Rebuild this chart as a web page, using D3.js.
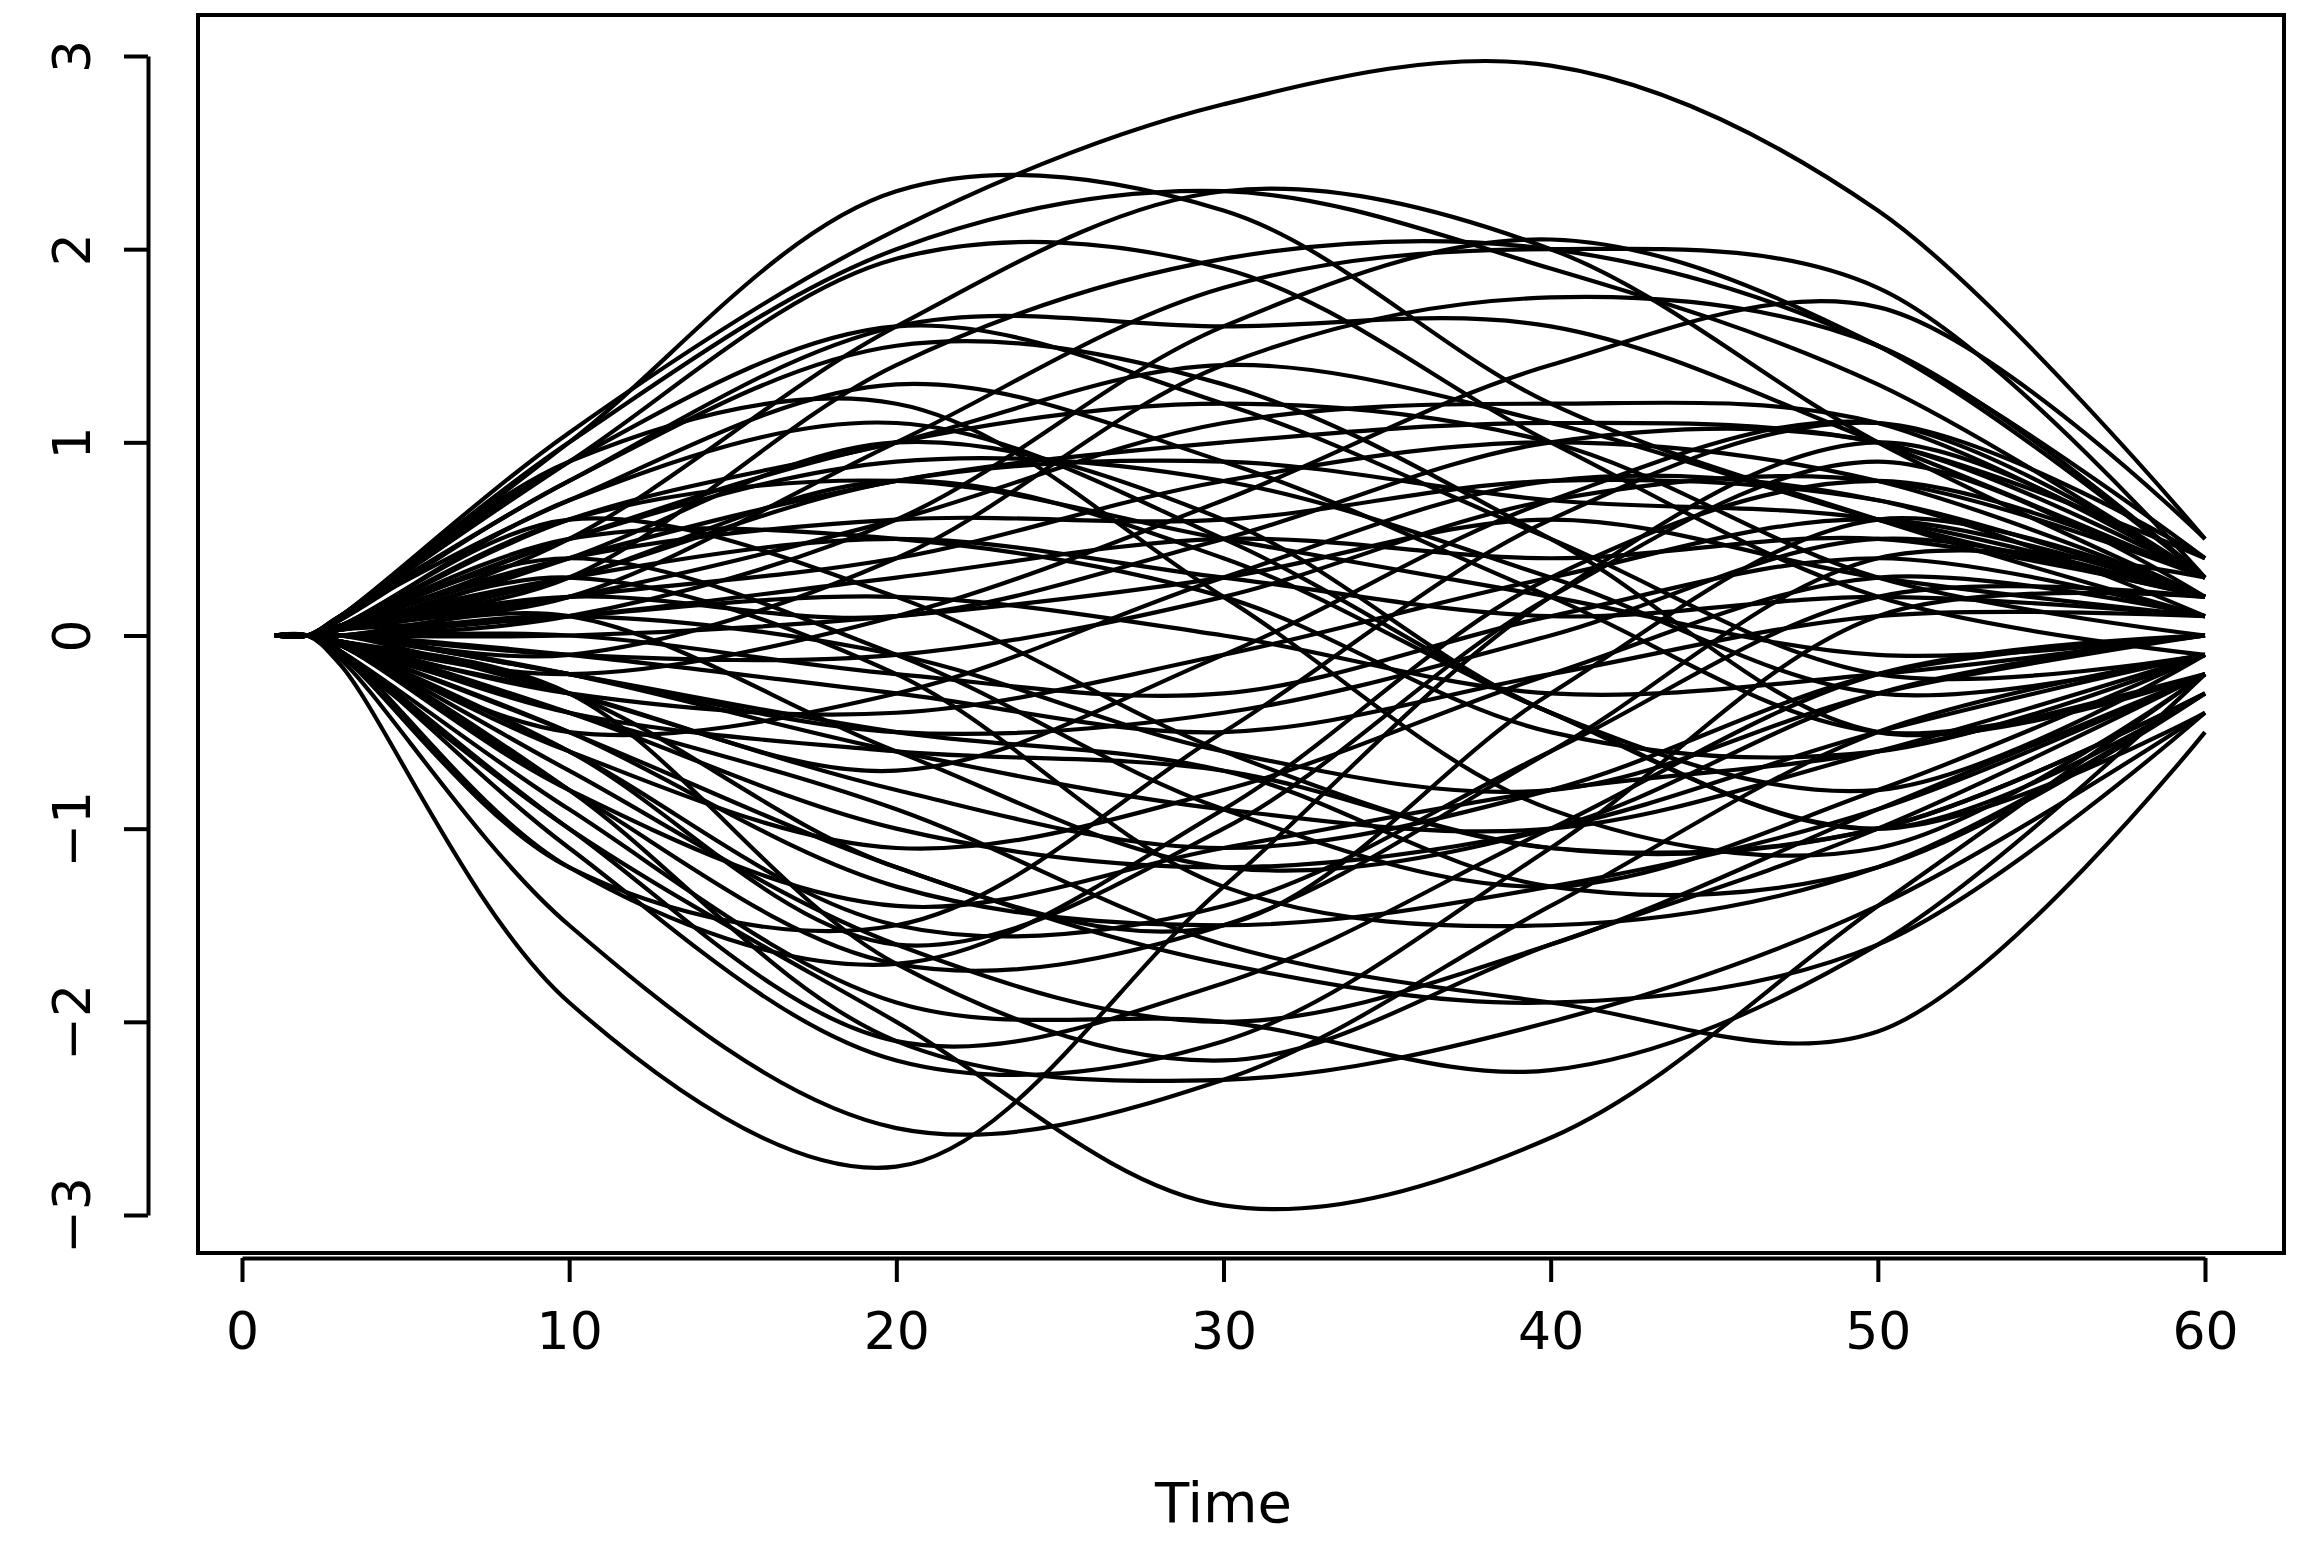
<!DOCTYPE html><html><head><meta charset="utf-8">
<script src="https://cdn.jsdelivr.net/npm/d3@7"></script>
<style>body{margin:0;background:#fff}</style></head><body>
<svg id="c" width="2303" height="1546"></svg>
<script>
const times=[1,2,3,10,20,30,40,50,60];
const xTicks=[0,10,20,30,40,50,60];
const yTicks=[-3,-2,-1,0,1,2,3];
const seriesRows=[
[.1,1.05,2.1,2.75,2.95,2.2,.5],[.1,1.0,2.0,2.3,1.9,1.3,.3],[.1,1.0,2.3,2.2,1.2,.6,.1],[.1,.9,1.95,1.9,1.0,.2,-.1],
[.05,.5,1.6,2.3,2.0,1.0,.2],[.05,.3,1.4,1.95,2.0,1.5,.4],[.05,.2,1.0,1.8,2.0,1.8,.3],[0,.1,.6,1.6,2.05,1.5,.3],
[0,-.1,.4,1.4,1.75,1.5,.3],[.1,.8,1.6,1.6,1.6,1.0,.3],[.1,.9,1.6,1.2,.5,-.2,-.1],[.1,.7,1.3,.9,.2,-.5,-.2],
[.05,.6,1.0,1.4,1.1,.6,.2],[.05,.6,.8,.5,.2,-.1,0],[.05,.5,1.0,1.2,1.0,.3,0],[.05,.4,.8,1.0,1.1,1.0,.4],
[.05,.4,.6,.6,.8,.7,.2],[.05,.3,.5,.3,.1,.2,.1],[.05,.3,.8,.4,-.4,-1.0,-.3],[.05,.5,.5,.2,-.5,-.6,-.1],
[.03,.2,.4,.8,1.0,.8,.2],[.03,.2,.1,.5,1.0,1.0,.3],[.03,.1,.3,.5,.4,.5,.2],[0,.1,-.1,-.6,-.8,-.3,0],
[0,.1,.2,0,-.3,-.2,0],[0,0,.1,.3,.6,.3,.1],[0,-.1,-.1,.2,.7,.8,.3],[0,0,-.2,-.3,.1,.4,.1],
[0,-.1,-.3,-.5,-.2,.1,.1],[0,-.2,-.5,-.4,0,.5,.2],[0,-.2,-.6,-.9,-1.0,-.6,-.1],[0,-.3,-.8,-1.1,-.8,-.2,0],
[-.03,-.3,-.4,-.1,.3,.6,.2],[-.03,-.4,-.6,-.7,-1.1,-1.0,-.3],[-.03,-.4,-1.0,-1.2,-1.0,-.5,-.1],[-.05,-.5,-.3,.3,.8,.7,.1],
[-.05,-.5,-1.3,-1.5,-1.3,-.9,-.2],[-.05,-.6,-1.5,-1.4,-.6,.2,.2],[-.05,-.6,-1.1,-.8,-.2,.3,.1],[-.05,-.7,-1.6,-2.0,-1.6,-.9,-.2],
[-.05,-.8,-1.7,-1.5,-.6,.4,.3],[-.05,-.8,-2.1,-2.3,-2.0,-1.4,-.4],[-.08,-.9,-1.9,-2.0,-2.25,-1.6,-.2],[-.08,-1.0,-2.1,-1.8,-1.0,-.2,0],
[-.08,-1.1,-2.2,-2.1,-1.1,.1,.2],[-.08,-1.2,-1.7,-.9,.3,.8,.3],[-.1,-1.2,-1.5,-.5,.6,1.1,.4],[-.1,-1.0,-2.0,-2.95,-2.6,-1.4,-.2],
[-.12,-1.5,-2.55,-2.3,-1.4,-.5,-.1],[-.15,-1.9,-2.75,-1.3,.2,1.0,.3],[-.05,-.5,-1.2,-1.7,-1.9,-1.6,-.4],[-.05,-.4,-.9,-1.6,-1.9,-2.05,-.5],
[-.05,-.6,-1.6,-1.0,.2,.9,.2],[-.05,-.3,-.7,-.1,.7,1.1,.3],[.05,.6,.2,-.6,-1.1,-1.0,-.3],[.05,.4,-.1,-.9,-1.3,-.8,-.1],
[.05,.5,.9,.8,.3,-.3,-.1],[.05,.7,1.1,.5,-.4,-1.0,-.4],[.08,.8,1.5,1.3,.5,-.5,-.2],[.08,.9,1.2,.2,-.9,-1.1,-.2],
[.03,.3,-.2,-1.3,-1.5,-1.2,-.3],[0,.1,-.6,-1.2,-1.0,-.3,0],[0,-.2,-.5,-.7,-1.3,-1.2,-.3],[-.03,-.3,-1.7,-2.2,-1.6,-1.0,-.2],
[-.03,-.3,-1.2,-1.5,-.3,.6,.2],[.03,.2,.6,1.1,1.2,1.1,.3],[.03,.3,.8,.9,.7,.6,.2],[-.03,-.2,.1,.7,1.4,1.7,.5],
[.03,.4,1.0,.6,-.4,-.8,-.1],[-.05,-.8,-1.4,-1.1,-.8,-.6,-.2]
];
const svg=d3.select("#c");
const x=d3.scaleLinear().domain([0,60]).range([242,2205]);
const y=d3.scaleLinear().domain([-3,3]).range([1215,56]);
const font="DejaVu Sans, sans-serif";
const line=d3.line().x(d=>x(d[0])).y(d=>y(d[1])).curve(d3.curveCatmullRom.alpha(0.5));
seriesRows.forEach(r=>{
  const vals=[0,0,...r];
  svg.append("path").attr("d",line(times.map((t,i)=>[t,vals[i]]))).attr("fill","none").attr("stroke","#000").attr("stroke-width",4.2);
});
svg.append("rect").attr("x",198).attr("y",15).attr("width",2086).attr("height",1238).attr("fill","none").attr("stroke","#000").attr("stroke-width",4);
const gx=svg.append("g").attr("transform","translate(0,1258)").call(d3.axisBottom(x).tickValues(xTicks).tickSize(24).tickPadding(30).tickSizeOuter(0));
gx.selectAll("text").attr("font-family",font).attr("font-size",52).attr("fill","#000");
const gy=svg.append("g").attr("transform","translate(148,0)").call(d3.axisLeft(y).tickValues(yTicks).tickSize(24).tickPadding(18).tickSizeOuter(0).tickFormat(d=>d<0?"\u2212"+(-d):d));
gy.selectAll("text").attr("font-family",font).attr("font-size",52).attr("fill","#000").attr("text-anchor","middle")
  .each(function(){d3.select(this).attr("x",null).attr("dy",null).attr("transform","translate(-72,0) rotate(-90)").attr("dominant-baseline","middle");});
svg.selectAll(".domain,.tick line").attr("stroke","#000").attr("stroke-width",4);
svg.append("text").attr("x",(242+2205)/2).attr("y",1522).attr("text-anchor","middle").attr("font-family",font).attr("font-size",56).text("Time");
</script></body></html>
